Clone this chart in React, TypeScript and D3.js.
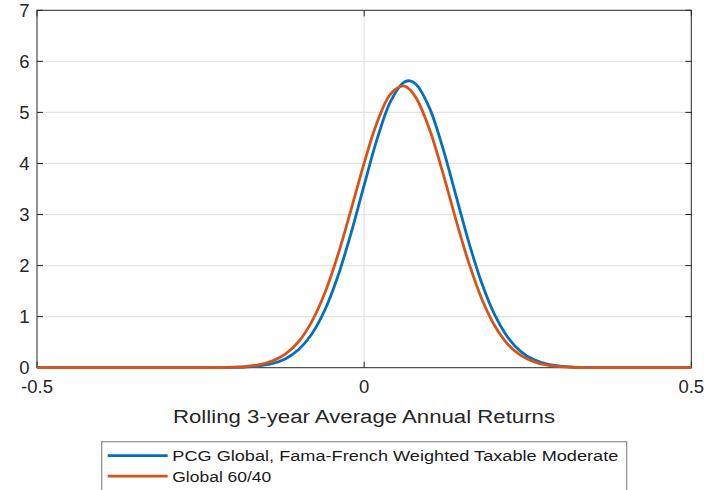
import React from "react";
import * as d3 from "d3";

const returnsX = [-0.5, -0.3, -0.26, -0.24, -0.22, -0.2, -0.18, -0.16, -0.14, -0.12, -0.1, -0.08, -0.06, -0.04, -0.02, 0, 0.02, 0.04, 0.06, 0.07, 0.08, 0.1, 0.12, 0.14, 0.16, 0.18, 0.2, 0.22, 0.24, 0.26, 0.28, 0.3, 0.32, 0.34, 0.36, 0.4, 0.5];
const pcgDensity = [0, 0, 0, 0.0005, 0.0017, 0.005, 0.014, 0.035, 0.082, 0.177, 0.356, 0.66, 1.132, 1.796, 2.636, 3.575, 4.486, 5.205, 5.585, 5.618, 5.541, 5.084, 4.314, 3.385, 2.455, 1.648, 1.023, 0.587, 0.311, 0.153, 0.069, 0.029, 0.011, 0.004, 0.001, 0, 0];
const global6040Density = [0, 0, 0.0004, 0.0012, 0.0035, 0.0098, 0.025, 0.06, 0.133, 0.271, 0.513, 0.902, 1.467, 2.213, 3.094, 4.008, 4.812, 5.352, 5.518, 5.445, 5.272, 4.667, 3.829, 2.912, 2.052, 1.34, 0.811, 0.455, 0.236, 0.114, 0.051, 0.021, 0.008, 0.003, 0.001, 0, 0];
const xTicks = [-0.5, 0, 0.5];
const xTickLabels = ["-0.5", "0", "0.5"];
const yTicks = [0, 1, 2, 3, 4, 5, 6, 7];
const seriesNames = ["PCG Global, Fama-French Weighted Taxable Moderate", "Global 60/40"];
const seriesColors = ["#0072BD", "#D95319"];
const xLabel = "Rolling 3-year Average Annual Returns";

const FONT = "'Liberation Sans', Arial, Helvetica, sans-serif";

export default function App() {
  const left = 37, right = 691.3, top = 10.3, bottom = 367.7;
  const x = d3.scaleLinear().domain([-0.5, 0.5]).range([left, right]);
  const y = d3.scaleLinear().domain([0, 7]).range([bottom, top]);
  const line = d3
    .line<[number, number]>()
    .x((d) => x(d[0]))
    .y((d) => y(d[1]))
    .curve(d3.curveCatmullRom.alpha(0.5));
  const series = [pcgDensity, global6040Density].map((vals) =>
    returnsX.map((xv, i) => [xv, vals[i]] as [number, number])
  );
  const axisColor = "#262626";
  const gridColor = "#e3e3e3";
  const legendTextLengths = [446, 99];

  return (
    <svg width={720} height={490} style={{ position: "absolute", left: 0, top: 0, background: "#fff" }} fontFamily={FONT}>
      <rect x={0} y={0} width={720} height={490} fill="#fff" />
      {/* grid */}
      {yTicks.slice(1, -1).map((t) => (
        <line key={"gy" + t} x1={left} x2={right} y1={y(t)} y2={y(t)} stroke={gridColor} strokeWidth={1.2} />
      ))}
      <line x1={x(0)} x2={x(0)} y1={top} y2={bottom} stroke={gridColor} strokeWidth={1.2} />
      {/* axes box */}
      <rect x={left} y={top} width={right - left} height={bottom - top} fill="none" stroke={axisColor} strokeWidth={1} />
      {yTicks.map((t) => (
        <g key={"ty" + t}>
          <line x1={left} x2={left + 6} y1={y(t)} y2={y(t)} stroke={axisColor} strokeWidth={1} />
          <line x1={right - 6} x2={right} y1={y(t)} y2={y(t)} stroke={axisColor} strokeWidth={1} />
          <text x={29.5} y={y(t)} dy="0.36em" textAnchor="end" fontSize={18.5} fill={axisColor}>
            {String(t)}
          </text>
        </g>
      ))}
      {xTicks.map((t, i) => (
        <g key={"tx" + t}>
          <line x1={x(t)} x2={x(t)} y1={bottom} y2={bottom - 6} stroke={axisColor} strokeWidth={1} />
          <line x1={x(t)} x2={x(t)} y1={top} y2={top + 6} stroke={axisColor} strokeWidth={1} />
          <text x={x(t)} y={393.3} textAnchor="middle" fontSize={18.5} fill={axisColor}>
            {xTickLabels[i]}
          </text>
        </g>
      ))}
      {/* curves */}
      {series.map((s, i) => (
        <path key={"s" + i} d={line(s) || ""} fill="none" stroke={seriesColors[i]} strokeWidth={2.8} strokeLinejoin="round" />
      ))}
      {/* x label */}
      <text x={364} y={422.5} textAnchor="middle" fontSize={18} fill={axisColor} textLength={382} lengthAdjust="spacingAndGlyphs">
        {xLabel}
      </text>
      {/* legend */}
      <rect x={101.7} y={441.7} width={525} height={60} fill="#fff" stroke="#8c8c8c" strokeWidth={1.2} />
      {seriesNames.map((n, i) => (
        <g key={"lg" + i}>
          <line x1={107.7} x2={167.7} y1={455.7 + i * 20.5} y2={455.7 + i * 20.5} stroke={seriesColors[i]} strokeWidth={2.8} />
          <text x={172.3} y={461 + i * 21.3} fontSize={15.5} fill="#1a1a1a" textLength={legendTextLengths[i]} lengthAdjust="spacingAndGlyphs">
            {n}
          </text>
        </g>
      ))}
    </svg>
  );
}
